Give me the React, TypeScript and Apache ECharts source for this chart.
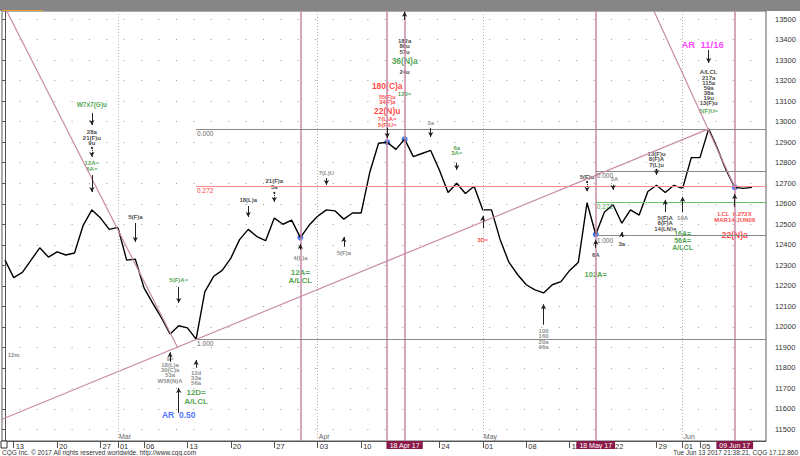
import React, { useEffect, useRef } from 'react';
import * as echarts from 'echarts';

const FONT = '"Liberation Sans", Arial, Helvetica, sans-serif';

const dates = [
  '2017-02-10', '2017-02-13', '2017-02-14', '2017-02-15', '2017-02-16', '2017-02-17',
  '2017-02-20', '2017-02-21', '2017-02-22', '2017-02-23', '2017-02-24',
  '2017-02-27', '2017-02-28', '2017-03-01', '2017-03-02', '2017-03-03',
  '2017-03-06', '2017-03-07', '2017-03-08', '2017-03-09', '2017-03-10',
  '2017-03-13', '2017-03-14', '2017-03-15', '2017-03-16', '2017-03-17',
  '2017-03-20', '2017-03-21', '2017-03-22', '2017-03-23', '2017-03-24',
  '2017-03-27', '2017-03-28', '2017-03-29', '2017-03-30', '2017-03-31',
  '2017-04-03', '2017-04-04', '2017-04-05', '2017-04-06', '2017-04-07',
  '2017-04-10', '2017-04-11', '2017-04-12', '2017-04-13',
  '2017-04-17', '2017-04-18', '2017-04-19', '2017-04-20', '2017-04-21',
  '2017-04-24', '2017-04-25', '2017-04-26', '2017-04-27', '2017-04-28',
  '2017-05-01', '2017-05-02', '2017-05-03', '2017-05-04', '2017-05-05',
  '2017-05-08', '2017-05-09', '2017-05-10', '2017-05-11', '2017-05-12',
  '2017-05-15', '2017-05-16', '2017-05-17', '2017-05-18', '2017-05-19',
  '2017-05-22', '2017-05-23', '2017-05-24', '2017-05-25', '2017-05-26',
  '2017-05-29', '2017-05-30', '2017-05-31', '2017-06-01', '2017-06-02',
  '2017-06-05', '2017-06-06', '2017-06-07', '2017-06-08', '2017-06-09',
  '2017-06-12', '2017-06-13',
];

const closes = [
  12325, 12240, 12265, 12325, 12385, 12340,
  12365, 12350, 12360, 12495, 12570,
  12530, 12475, 12485, 12325, 12330,
  12190, 12115, 12045, 11965, 12005,
  11995, 11940, 12170, 12245, 12275,
  12335, 12425, 12475, 12440, 12420,
  12530, 12500, 12520, 12435, 12495,
  12540, 12570, 12565, 12525, 12555,
  12555, 12755, 12895, 12900,
  12865, 12915, 12830, 12845, 12860,
  12765, 12655, 12700, 12650, 12685,
  12570, 12570, 12425, 12315, 12255,
  12205, 12180, 12165, 12205, 12220,
  12275, 12315, 12605, 12450, 12560,
  12595, 12505, 12570, 12545, 12660,
  12690, 12655, 12690, 12675, 12825,
  12825, 12965, 12870, 12765, 12680,
  12675, 12680,
];

const lastPriceLabel = ['12655'];

const yTicks = [
  11500, 11600, 11700, 11800, 11900, 12000, 12100, 12200, 12300, 12400, 12500,
  12600, 12700, 12800, 12900, 13000, 13100, 13200, 13300, 13400, 13500,
];

const dateTicks = [
  ['2017-02-13', '13'], ['2017-02-20', '20'], ['2017-02-27', '27'], ['2017-03-01', '01'],
  ['2017-03-06', '06'], ['2017-03-13', '13'], ['2017-03-20', '20'], ['2017-03-27', '27'],
  ['2017-04-03', '03'], ['2017-04-10', '10'], ['2017-04-24', '24'], ['2017-05-01', '01'],
  ['2017-05-08', '08'], ['2017-05-15', '15'], ['2017-05-22', '22'], ['2017-05-29', '29'],
  ['2017-06-01', '01'], ['2017-06-05', '05'],
];
const boxedDates = [['2017-04-18', '18 Apr 17'], ['2017-05-18', '18 May 17'], ['2017-06-09', '09 Jun 17']];
const monthLabels = [['2017-03-01', 'Mar'], ['2017-04-03', 'Apr'], ['2017-05-01', 'May'], ['2017-06-01', 'Jun']];
const pivotDates = ['2017-03-30', '2017-04-13', '2017-04-18', '2017-05-18', '2017-06-09'];
const pinkVerticalDates = ['2017-03-30', '2017-04-13', '2017-04-18', '2017-05-18', '2017-06-09'];

const fibMainStart = '2017-03-14';
const fibMainLevels = [['0.000', 12965, 'gray'], ['0.272', 12686, 'red'], ['1.000', 11940, 'gray']];
const fibSecondStart = '2017-05-18';
const fibSecondLevels = [['0.000', 12760, 'gray'], ['0.272', 12609, 'green'], ['1.000', 12445, 'gray']];

// trend lines: [trading-day index, price] pairs
const trendLines = [
  [[0.2, 13540], [19.9, 11897]],
  [[-0.345, 11549], [81, 12965]],
  [[74.7, 13540], [84, 12680]],
];

// annotations: date, price, text, colour key, font size, line height, x shift (days)
const notes: [string, number, string, string, number, number, number][] = [
  ['2017-02-24', 13082, 'W7x7(G)u', 'g', 6.5, 7, 0],
  ['2017-02-24', 12922, '28a\n21(F)u\n9u', 'k', 6, 5.4, 0],
  ['2017-02-24', 12784, '12A=\n6A=', 'g', 6, 5.8, 0],
  ['2017-03-03', 12536, '5(F)a', 'k', 6, 6, 0],
  ['2017-03-10', 12228, '5(F)A=', 'g', 6, 6, 0],
  ['2017-02-13', 11862, '12m', 'y', 6, 6, 0],
  ['2017-03-09', 11789, '9=\n18(L)a\n30(C)a\n53a\nW58(N)A', 'y', 6, 5.4, 0],
  ['2017-03-14', 11750, '12d\n33a\n56a', 'y', 6, 5.4, 0],
  ['2017-03-14', 11658, '12D=\nA/LCL', 'g', 8, 8.2, 0],
  ['2017-03-10', 11570, 'AR  0.50', 'b', 8.5, 9, 0],
  ['2017-03-22', 12619, '18(L)a', 'k', 6, 6, 0],
  ['2017-03-27', 12697, '21(F)a\n3a', 'k', 6, 5.4, 0],
  ['2017-04-04', 12750, '7(L)U', 'y', 6, 6, 0],
  ['2017-03-30', 12336, '4(L)a', 'y', 6, 6, 0],
  ['2017-03-30', 12245, '12A=\nA/LCL', 'g', 8, 8.2, 0],
  ['2017-04-06', 12360, '5(F)a', 'y', 6, 6, 0],
  ['2017-04-18', 13368, '182a\n80u\n57u', 'k', 6, 5.4, 0],
  ['2017-04-18', 13297, '36(N)a', 'g', 8.5, 9, 0],
  ['2017-04-18', 13243, '24u', 'k', 6, 6, 0],
  ['2017-04-18', 13136, '120=', 'g', 6, 6, 0],
  ['2017-04-13', 13172, '180(C)a', 'r', 8.5, 9, 0],
  ['2017-04-13', 13107, '55(F)u\n34(F)a', 'r', 5.5, 5, 0],
  ['2017-04-13', 13054, '22(N)u', 'r', 8.5, 8, 0],
  ['2017-04-13', 12999, '7(L)A=\n5(F)U=', 'r', 6, 5.6, 0],
  ['2017-04-21', 12994, '3a', 'y', 6, 6, 0],
  ['2017-04-26', 12858, '6a\n3A=', 'g', 6, 5.2, 0],
  ['2017-05-01', 12423, '3D=', 'r', 6, 6, 0],
  ['2017-05-10', 11940, '100\n160\n20a\n96a', 'y', 6, 5.4, 0],
  ['2017-05-17', 12731, '5(F)u', 'k', 6, 6, 0],
  ['2017-05-22', 12722, '3A', 'y', 6, 6, 0.15],
  ['2017-05-18', 12350, '6A', 'k', 6, 6, 0],
  ['2017-05-18', 12253, '102A=', 'g', 7.5, 8, 0],
  ['2017-05-23', 12404, '3a', 'k', 6, 6, 0],
  ['2017-05-29', 12816, '13(F)u\n8(F)A\n7(L)u', 'k', 6, 5.4, 0],
  ['2017-05-30', 12504, '5(F)A\n8(F)A\n14(LN)a', 'k', 6, 5.4, 0],
  ['2017-06-01', 12531, '10A', 'y', 6, 6, 0],
  ['2017-06-01', 12420, '16A=\n56A=\nA/LCL', 'g', 7, 6.8, 0],
  ['2017-06-09', 12536, 'LCL  0.272X\nMAR14-JUN06', 'r', 6, 6, 0],
  ['2017-06-09', 12448, '22(N)a', 'r', 8.5, 9, 0],
  ['2017-06-06', 13375, 'AR  11/16', 'm', 9.5, 10, -0.7],
  ['2017-06-06', 13166, 'A/LCL\n217a\n115a\n59a\n38a\n19u\n13(F)u', 'k', 6, 5.1, 0],
  ['2017-06-06', 13053, '5(F)U=', 'g', 6, 6, 0],
];

// arrows: date, from price, to price, dotted
const arrows: [string, number, number, boolean][] = [
  ['2017-02-24', 13043, 12984, false],
  ['2017-02-24', 12872, 12828, true],
  ['2017-02-24', 12740, 12657, false],
  ['2017-03-03', 12506, 12413, false],
  ['2017-03-10', 12195, 12116, false],
  ['2017-03-09', 11829, 11876, false],
  ['2017-03-14', 11800, 11838, false],
  ['2017-03-10', 11580, 11702, false],
  ['2017-03-22', 12589, 12536, false],
  ['2017-03-27', 12653, 12609, true],
  ['2017-04-04', 12726, 12692, false],
  ['2017-03-30', 12375, 12404, false],
  ['2017-04-06', 12390, 12438, false],
  ['2017-04-18', 13497, 13536, false],
  ['2017-04-13', 12970, 12921, false],
  ['2017-04-21', 12970, 12926, false],
  ['2017-04-26', 12800, 12765, false],
  ['2017-05-01', 12480, 12540, false],
  ['2017-05-10', 12010, 12110, false],
  ['2017-05-17', 12706, 12658, true],
  ['2017-05-22', 12692, 12667, false],
  ['2017-05-18', 12385, 12424, false],
  ['2017-05-23', 12438, 12462, false],
  ['2017-05-29', 12765, 12740, true],
  ['2017-05-30', 12560, 12619, false],
  ['2017-06-01', 12560, 12634, false],
  ['2017-06-09', 12585, 12648, false],
  ['2017-06-06', 13350, 13287, false],
];

const tabNames = ['Custom GCE.ADC', 'Custom GCE.ADC', 'Custom GCE.ADC', 'Custom GCE.ADC', 'Custom GCE.ADC', 'Custom GCE.ADC'];

const COLORS: Record<string, string> = {
  k: '#111111', g: '#1e8c1e', r: '#ff1414', y: '#707070', b: '#1a4cff', m: '#ff14ff',
  gray: '#8a8a8a', red: '#ff8a8a', green: '#6cc46c',
};
const PINK = '#c98aa6';

const X_MIN = -0.345;
const X_MAX = 87.6;
const Y_MIN = 11443;
const Y_MAX = 13540;

function buildOption() {
  const idx = (d: string) => dates.indexOf(d);
  const tickMap: Record<number, string> = {};
  dateTicks.forEach(([d, l]) => { tickMap[idx(d)] = l; });
  const boxMap: Record<number, string> = {};
  boxedDates.forEach(([d, l]) => { boxMap[idx(d)] = l; });
  const monthMap: Record<number, string> = {};
  monthLabels.forEach(([d, l]) => { monthMap[idx(d)] = l; });
  const last = closes.length - 1;

  const fibLine = (start: string, lv: (string | number)[]) => [
    {
      coord: [idx(start), lv[1] as number],
      lineStyle: { color: COLORS[lv[2] as string], width: 1, type: 'solid' },
      label: {
        show: true, position: 'insideStartBottom', formatter: lv[0] as string, distance: 1,
        color: lv[2] === 'red' ? '#ff4040' : lv[2] === 'green' ? '#4aa04a' : '#666',
        fontSize: 6.5, fontFamily: FONT,
      },
    },
    { coord: [X_MAX, lv[1] as number] },
  ];

  const baseX = {
    type: 'value', min: X_MIN, max: X_MAX, position: 'bottom',
    splitLine: { show: false },
  };

  return {
    animation: false,
    backgroundColor: '#ffffff',
    textStyle: { fontFamily: FONT },
    grid: { left: 2, right: 34, top: 11, bottom: 15, show: true, borderColor: '#5a5a5a', borderWidth: 1, backgroundColor: '#ffffff' },
    xAxis: [
      {
        ...baseX,
        axisLine: { show: true, lineStyle: { color: '#555', width: 1 } },
        axisTick: { show: true, customValues: Object.keys(tickMap).map(Number), length: 7, lineStyle: { color: '#555' } },
        axisLabel: {
          customValues: Object.keys(tickMap).map(Number),
          formatter: (v: number) => tickMap[Math.round(v)] ?? '',
          align: 'left', margin: 1, fontSize: 7.5, color: '#333', padding: [0, 0, 0, 2], fontFamily: FONT,
        },
      },
      {
        ...baseX,
        axisLine: { show: false }, axisTick: { show: false },
        axisLabel: {
          customValues: Object.keys(boxMap).map(Number),
          formatter: (v: number) => boxMap[Math.round(v)] ?? '',
          align: 'center', margin: 0, fontSize: 7, lineHeight: 8, color: '#ffffff', backgroundColor: '#8a1a4a',
          padding: [0, 3, 0, 3], fontFamily: FONT,
        },
      },
      {
        ...baseX,
        axisLine: { show: false }, axisTick: { show: false },
        axisLabel: {
          inside: true,
          customValues: Object.keys(monthMap).map(Number),
          formatter: (v: number) => monthMap[Math.round(v)] ?? '',
          align: 'left', margin: 1, fontSize: 7, color: '#666', padding: [0, 0, 0, 1], fontFamily: FONT,
        },
      },
    ],
    yAxis: [
      {
        type: 'value', min: Y_MIN, max: Y_MAX, position: 'right',
        axisLine: { show: true, lineStyle: { color: '#555' } },
        axisTick: { show: true, inside: true, length: 3, customValues: yTicks, lineStyle: { color: '#555' } },
        axisLabel: { customValues: yTicks, formatter: (v: number) => String(v), fontSize: 7.5, color: '#333', margin: 9, fontFamily: FONT },
        splitLine: { show: true, lineStyle: { color: '#9a9a9a', width: 1, type: [1, 16.4] } },
      },
    ],
    series: [
      {
        type: 'line', data: [], silent: true,
        markLine: {
          silent: true, symbol: ['none', 'none'], label: { show: false },
          data: [
            ...monthLabels.map(([d]) => ({ xAxis: idx(d), lineStyle: { color: '#b0b0b0', width: 1, type: [1, 2] } })),
            ...pinkVerticalDates.map((d) => ({ xAxis: idx(d), lineStyle: { color: PINK, width: 1.5, type: 'solid' } })),
            ...fibMainLevels.map((lv) => fibLine(fibMainStart, lv)),
            ...fibSecondLevels.map((lv) => fibLine(fibSecondStart, lv)),
            ...trendLines.map(([a, b]) => [
              { coord: a, lineStyle: { color: PINK, width: 1.2, type: 'solid' } },
              { coord: b },
            ]),
          ],
        },
      },
      {
        type: 'line', name: 'price', silent: true,
        data: dates.map((d, i) => [i, closes[i]]),
        symbol: 'none', lineStyle: { color: '#000000', width: 1.4 },
        markLine: {
          silent: true, symbol: ['none', 'none'],
          data: [[
            {
              coord: [last, closes[last]],
              lineStyle: { opacity: 0 },
              label: {
                show: true, position: 'end', formatter: lastPriceLabel[0], distance: 3,
                color: '#ffffff', backgroundColor: '#000000', padding: [2, 4, 1, 4], fontSize: 7.5, fontFamily: FONT,
              },
            },
            { coord: [X_MAX, closes[last]] },
          ]],
        },
      },
      {
        type: 'scatter', silent: true,
        data: pivotDates.map((d) => [idx(d), closes[idx(d)]]),
        symbolSize: 6, itemStyle: { color: '#1a5cf0' },
      },
      {
        type: 'scatter', data: [], silent: true,
        markLine: {
          silent: true, label: { show: false },
          data: arrows.map(([d, a, b, dotted]) => [
            { coord: [idx(d), a], symbol: dotted ? 'circle' : 'none', symbolSize: 2, lineStyle: { color: '#222', width: 1, type: dotted ? [1, 1] : 'solid' } },
            { coord: [idx(d), b], symbol: 'arrow', symbolSize: [4, 5] },
          ]),
        },
      },
      {
        type: 'scatter', silent: true, symbolSize: 0,
        data: notes.map(([d, p, t, c, s, lh, dx]) => ({
          value: [idx(d) + dx, p],
          label: {
            show: true, position: 'inside', formatter: t, color: COLORS[c], fontSize: s,
            lineHeight: lh, fontWeight: 'bold', fontFamily: FONT, align: 'center',
            backgroundColor: '#ffffff', padding: [0, 1],
          },
        })),
      },
    ],
    graphic: [
      { type: 'rect', z: 100, shape: { x: 0, y: 0, width: 800, height: 11 }, style: { fill: '#858585' } },
      ...tabNames.map((t, i) => ({
        type: 'group', z: 101,
        children: [
          { type: 'rect', shape: { x: 2 + i * 41.6, y: 1, width: 40.5, height: 9 }, style: { fill: i === 0 ? '#d9d9d9' : '#5c5c5c', stroke: '#a0a0a0', lineWidth: 0.5 } },
          { type: 'text', x: 22 + i * 41.6, y: 5.8, style: { text: t, align: 'center', verticalAlign: 'middle', fill: i === 0 ? '#555' : '#d8d8d8', font: `5.5px ${FONT}` } },
        ],
      })),
      {
        type: 'group', z: 101,
        children: [
          { type: 'rect', shape: { x: 252, y: 1, width: 8, height: 9 }, style: { fill: '#5c5c5c', stroke: '#a0a0a0', lineWidth: 0.5 } },
          { type: 'text', x: 256, y: 5.8, style: { text: '+', align: 'center', verticalAlign: 'middle', fill: '#ddd', font: `bold 7px ${FONT}` } },
        ],
      },
      { type: 'rect', z: 101, shape: { x: 2, y: 10, width: 40.5, height: 1 }, style: { fill: '#f0a030' } },
      { type: 'rect', z: 101, shape: { x: 1, y: 441, width: 6, height: 7 }, style: { fill: '#fff', stroke: '#333', lineWidth: 1 } },
      { type: 'text', z: 101, x: 2, y: 452.5, style: { text: 'CQG Inc. © 2017 All rights reserved worldwide. http://www.cqg.com', verticalAlign: 'middle', fill: '#333', font: `6.5px ${FONT}` } },
      { type: 'text', z: 101, x: 798, y: 452.5, style: { text: 'Tue Jun 13 2017 21:38:21, CQG 17.12.860', align: 'right', verticalAlign: 'middle', fill: '#333', font: `6.5px ${FONT}` } },
    ],
  };
}

export default function App() {
  const ref = useRef<HTMLDivElement>(null);
  useEffect(() => {
    if (!ref.current) return;
    const chart = echarts.init(ref.current, null, { renderer: 'svg' });
    chart.setOption(buildOption() as any);
    return () => chart.dispose();
  }, []);
  return <div ref={ref} style={{ position: 'fixed', left: 0, top: 0, width: 800, height: 456 }} />;
}
